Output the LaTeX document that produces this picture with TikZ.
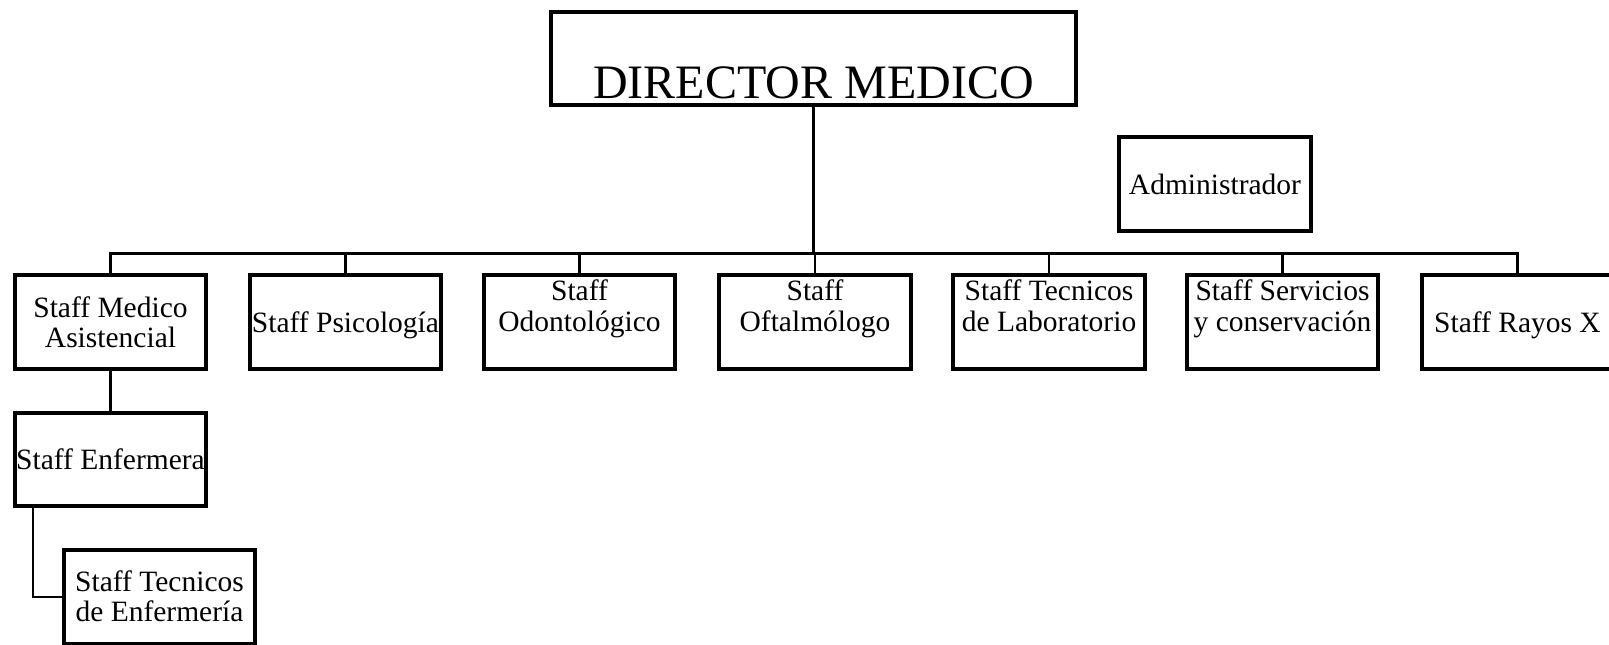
\documentclass[tikz,border=0pt]{standalone}
\usepackage{fontspec}
\setmainfont{Liberation Serif}
\begin{document}
\begin{tikzpicture}[x=1pt,y=-1pt,
  box/.style={draw,line width=3.9pt,inner sep=0pt,outer sep=0pt,minimum width=191.5pt,minimum height=94pt,align=center,font=\fontsize{29.5}{30}\selectfont},
  one/.style={text height=20pt,text depth=0pt},
  two/.style={text height=50pt,text depth=0pt},
  twotop/.style={text height=20pt,text depth=2pt,font=\fontsize{29.5}{31}\selectfont},
  conn/.style={line width=2.2pt}]
\useasboundingbox (0,0) rectangle (1609,645);
\node[box,minimum width=525pt,minimum height=93pt,font=\fontsize{48}{50}\selectfont,text height=79pt,text depth=0pt] (dir) at (813.5,58.5) {DIRECTOR MEDICO};
\node[box,one] (adm) at (1215,184) {Administrador};
\node[box,two] (b1) at (110.5,322) {Staff Medico\\Asistencial};
\node[box,one] (b2) at (345.5,322) {Staff Psicología};
\node[box,twotop] (b3) at (579.5,322) {Staff\\Odontológico};
\node[box,twotop] (b4) at (815,322) {Staff\\Oftalmólogo};
\node[box,twotop] (b5) at (1049,322) {Staff Tecnicos\\de Laboratorio};
\node[box,twotop] (b6) at (1282.5,322) {Staff Servicios\\y conservación};
\node[box,one] (b7) at (1517.5,322) {Staff Rayos X};
\node[box,one,minimum height=93.5pt] (enf) at (110.5,459.5) {Staff Enfermera};
\node[box,text height=48pt,text depth=0pt,minimum height=93.5pt] (tec) at (159.5,597) {Staff Tecnicos\\de Enfermería};
\coordinate (bus) at (813.5,253.5);
\draw[conn] (dir.south) -- (dir.south |- bus);
\draw[conn] (b1.north) -- (b1.north |- bus) -- (b7.north |- bus) -- (b7.north);
\foreach \n in {b2,b3,b4,b5,b6}{\draw[conn] (\n.north) -- (\n.north |- bus);}
\draw[conn] (b1.south) -- (enf.north);
\draw[conn] ([xshift=-77.5pt]enf.south) |- (tec.west);
\end{tikzpicture}
\end{document}
